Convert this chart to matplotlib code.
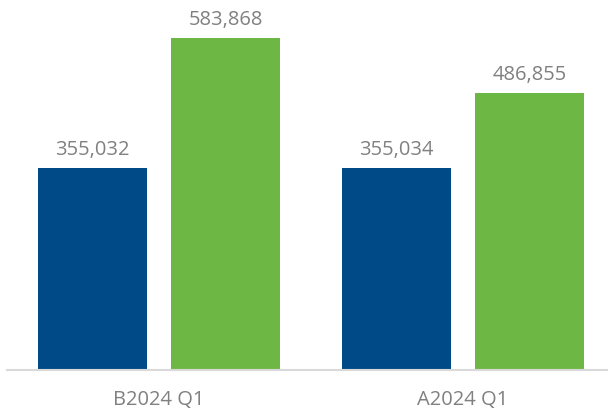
import matplotlib
matplotlib.use("Agg")
import matplotlib.pyplot as plt
import numpy as np

categories = ["B2024 Q1", "A2024 Q1"]
series_blue = [355032, 355034]
series_green = [583868, 486855]

plt.rcParams['font.family'] = ['Open Sans', 'DejaVu Sans']

fig = plt.figure(figsize=(6.08, 4.09), dpi=100)
ax = fig.add_axes([7/608, 39/409, 1 - 7/608, 370/409])

x = np.arange(len(categories))
w = 0.357
off = w/2 + 0.041
blue = "#004B87"
green = "#6DB844"
b1 = ax.bar(x - off, series_blue, w, color=blue)
b2 = ax.bar(x + off, series_green, w, color=green)

for bars, vals in ((b1, series_blue), (b2, series_green)):
    for r, v in zip(bars, vals):
        ax.annotate(f"{v:,}", (r.get_x() + r.get_width()/2, v),
                    xytext=(0, 13.2), textcoords="offset points",
                    ha="center", va="center", fontsize=14.5, color="#808080")

ax.set_xlim(-0.5, 1.477)
ax.set_ylim(0, 650700)
ax.set_xticks(x)
ax.set_xticklabels(categories, fontsize=14.5, color="#808080")
ax.tick_params(axis="x", length=0, pad=14.5)
ax.set_yticks([])
for s in ("top", "right", "left"):
    ax.spines[s].set_visible(False)
ax.spines["bottom"].set_color("#D9D9D9")
ax.spines["bottom"].set_linewidth(1.5)

fig.savefig("out.png", dpi=100)
